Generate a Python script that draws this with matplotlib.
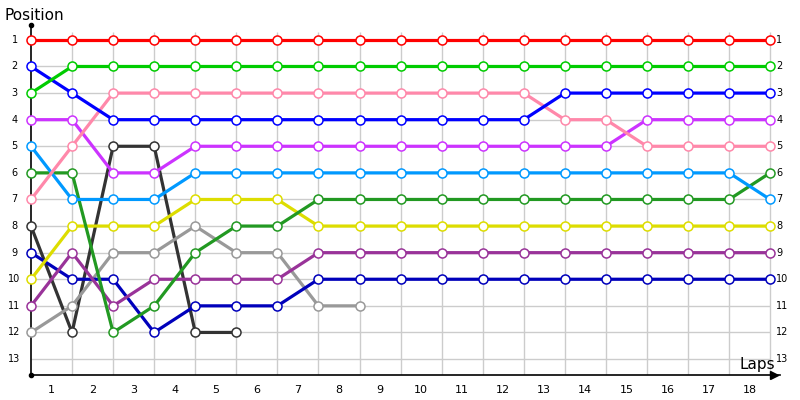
import matplotlib.pyplot as plt

# Lap-by-lap positions (lap 0 = start)
red = [1] * 19
green = [3] + [2] * 18
blue = [2, 3] + [4] * 11 + [3] * 6
pink = [7, 5] + [3] * 11 + [4, 4] + [5] * 4
magenta = [4, 4, 6, 6] + [5] * 11 + [4] * 4
light_blue = [5, 7, 7, 7] + [6] * 14 + [7]
dark_green = [6, 6, 12, 11, 9, 8, 8] + [7] * 11 + [6]
yellow = [10, 8, 8, 8, 7, 7, 7] + [8] * 12
gray = [12, 11, 9, 9, 8, 9, 9, 11, 11]
purple = [11, 9, 11, 10, 10, 10, 10] + [9] * 12
navy = [9, 10, 10, 12, 11, 11, 11] + [10] * 12
black = [8, 12, 5, 5, 12, 12]

series = [
    (black, '#333333'),
    (gray, '#999999'),
    (navy, '#0000bb'),
    (purple, '#993399'),
    (yellow, '#dddd00'),
    (dark_green, '#229922'),
    (light_blue, '#0099ff'),
    (magenta, '#cc33ff'),
    (pink, '#ff88aa'),
    (blue, '#0000ff'),
    (green, '#00cc00'),
    (red, '#ff0000'),
]

n_laps = 18
positions = list(range(1, 14))

fig = plt.figure(figsize=(8, 4), dpi=100)
ax = fig.add_axes([31 / 800, 25 / 400, 749 / 800, 350 / 400])
ax.set_xlim(0, 18.24)
ax.set_ylim(13.6, 0.44)
ax.axis('off')

# grid
ax.hlines(positions, 0, n_laps, color='#cccccc', lw=1, zorder=1)
ax.vlines(range(1, n_laps + 1), 13.6, 0.72, color='#cccccc', lw=1, zorder=1)

# axes lines with arrows
ax.plot([0, 0], [13.6, 0.44], color='black', lw=1.2, zorder=2, clip_on=False)
ax.plot([0, 18.24], [13.6, 13.6], color='black', lw=1.2, zorder=2, clip_on=False)
ax.plot(0, 0.44, marker='o', ms=3, color='black', clip_on=False)
ax.plot(0, 13.6, marker='o', ms=3, color='black', clip_on=False)
ax.plot(18.1, 13.6, marker='>', ms=6, color='black', clip_on=False)

for vals, col in series:
    laps = list(range(len(vals)))
    ax.plot(laps, vals, color=col, lw=2.3, marker='o', ms=6.5,
            mfc='white', mec=col, mew=1.1, zorder=3, clip_on=False)

# tick labels
for i in range(1, n_laps + 1):
    ax.text(i - 0.5, 14.15, str(i), ha='center', va='center', fontsize=8)
for p in positions:
    ax.text(-0.4, p, str(p), ha='center', va='center', fontsize=7)
    ax.text(18.15, p, str(p), ha='left', va='center', fontsize=7)

fig.text(4 / 800, 1 - 16 / 400, 'Position', ha='left', va='center', fontsize=11)
fig.text(775 / 800, 1 - 365 / 400, 'Laps', ha='right', va='center', fontsize=11)

fig.savefig('out.png', dpi=100)
